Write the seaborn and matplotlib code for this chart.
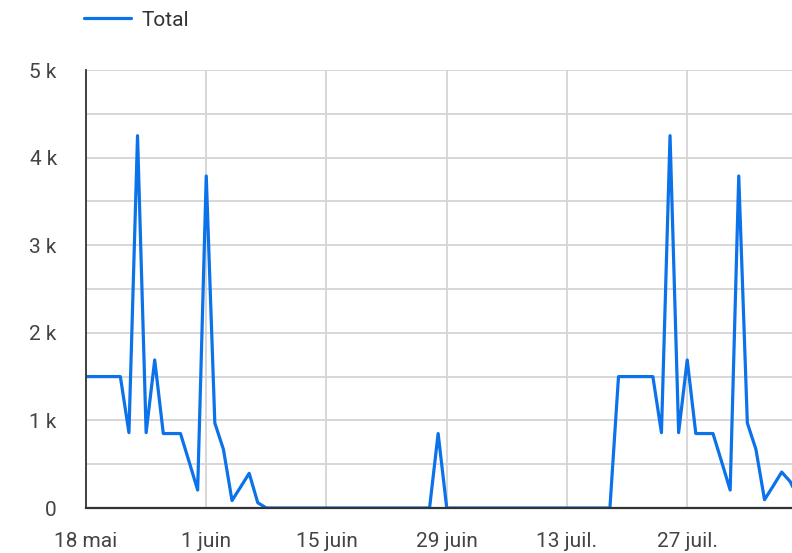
import pandas as pd
import seaborn as sns
import matplotlib.pyplot as plt
from matplotlib.ticker import FuncFormatter, MultipleLocator

# daily totals, starting 18 mai
start_date = "2023-05-18"
total = [1500, 1500, 1500, 1500, 1500, 860, 4250, 860, 1690, 850,
         850, 850, 530, 205, 3790, 970, 670, 85, 240, 396,
         60, 0, 0, 0, 0, 0, 0, 0, 0, 0,
         0, 0, 0, 0, 0, 0, 0, 0, 0, 0,
         0, 850, 0, 0, 0, 0, 0, 0, 0, 0,
         0, 0, 0, 0, 0, 0, 0, 0, 0, 0,
         0, 0, 1500, 1500, 1500, 1500, 1500, 860, 4250, 860,
         1690, 850, 850, 850, 530, 205, 3790, 970, 670, 95,
         250, 410, 300, 100]

tick_dates = ["2023-05-18", "2023-06-01", "2023-06-15", "2023-06-29", "2023-07-13", "2023-07-27"]
tick_labels = ["18 mai", "1 juin", "15 juin", "29 juin", "13 juil.", "27 juil."]

df = pd.DataFrame({"date": pd.date_range(start_date, periods=len(total), freq="D"),
                   "Total": total})

sns.set_style("white")
plt.rcParams['font.family'] = ['Roboto', 'DejaVu Sans']

fig = plt.figure(figsize=(7.92, 5.53), dpi=100)
ax = fig.add_axes([86/792, 45/553, 706/792, 438/553])

sns.lineplot(data=df, x="date", y="Total", ax=ax, color="#0b72ea", linewidth=2.3, label="Total")

ax.set_ylim(0, 5000)
ax.set_xlim(pd.Timestamp(start_date), pd.Timestamp(start_date) + pd.Timedelta(days=82.2))
ax.yaxis.set_major_locator(MultipleLocator(1000))
ax.yaxis.set_minor_locator(MultipleLocator(500))
ax.yaxis.set_major_formatter(FuncFormatter(lambda v, p: "0" if v == 0 else f"{int(v/1000)} k"))
ax.set_xticks(pd.to_datetime(tick_dates))
ax.set_xticklabels(tick_labels)

ax.grid(which='both', axis='y', color='#d4d4d4', linewidth=1.3)
ax.grid(which='major', axis='x', color='#d4d4d4', linewidth=1.3)
ax.set_axisbelow(True)

ax.tick_params(axis='both', length=0, labelsize=15, labelcolor='#444444')
ax.tick_params(axis='y', pad=21)
ax.tick_params(axis='x', pad=17)
ax.set_xlabel("")
ax.set_ylabel("")

for s in ["top", "right"]:
    ax.spines[s].set_visible(False)
ax.spines["left"].set_color("#333333")
ax.spines["bottom"].set_color("#333333")
ax.spines["left"].set_linewidth(1.3)
ax.spines["bottom"].set_linewidth(1.6)

ax.get_legend().remove()
fig.legend(loc='center left', bbox_to_anchor=(84/792, 1 - 20/553), frameon=False,
           fontsize=15, handlelength=2.25, handletextpad=0.5, borderpad=0, borderaxespad=0,
           labelcolor='#333333')

plt.savefig("out.png", dpi=100)
